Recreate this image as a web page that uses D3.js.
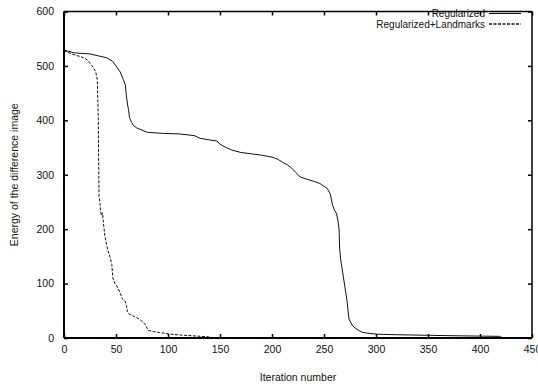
<!DOCTYPE html>
<html>
<head>
<meta charset="utf-8">
<script src="https://cdn.jsdelivr.net/npm/d3@7"></script>
<style>
  body { margin: 0; background: #fff; }
  svg { display: block; font-family: "Liberation Sans", Arial, sans-serif; }
</style>
</head>
<body>
<div id="chart"></div>
<script>
// Energy of the difference image vs iteration
const regIter = [0, 10, 25, 34, 41, 47, 50, 54, 57, 59, 60, 61, 62, 63, 65, 67, 70, 75, 80, 95,
  111, 125, 131, 140, 147, 150, 156, 162, 170, 182, 190, 201, 206, 210, 215, 219, 223, 227, 233,
  240, 246, 253, 256, 258, 260, 262, 263.5, 264.5, 265, 266, 267, 268, 270, 272, 274, 277, 280,
  286, 291, 301, 320, 349, 380, 400, 419, 421, 430, 450];
const regEnergy = [529, 524, 522, 518, 515, 508, 500, 489, 475, 465, 445, 430, 420, 405, 396, 390,
  386, 382, 378, 376, 375, 372, 367, 364, 362, 356, 350, 345, 341, 338, 336, 332, 328, 323, 318,
  312, 304, 296, 292, 288, 284, 275, 265, 246, 235, 229, 215, 200, 165, 145, 132, 120, 95, 70, 35,
  24, 18, 11, 9, 7, 6, 5, 4, 3.5, 3, 1, 0, 0];

const lmIter = [0, 5, 10.6, 16, 20, 23, 25, 28, 30.5, 32, 32.5, 33, 33.2, 33.5, 33.7, 34.6, 35, 36,
  37, 38, 39.4, 41, 42, 44, 46, 47, 49, 51, 54, 56, 58.7, 60, 61, 62, 65, 68, 73, 76, 78, 80, 81,
  86, 92, 102, 115, 124, 140];
const lmEnergy = [528, 524, 520, 517, 514, 510, 505, 498, 489, 475, 440, 400, 350, 300, 260, 248,
  235, 225, 230, 210, 186, 172, 162, 150, 135, 110, 100, 95, 83, 72, 68, 60, 48, 45, 42, 39, 34,
  29, 25, 18, 14, 12, 10, 7, 5, 4, 2];

const xTicks = [0, 50, 100, 150, 200, 250, 300, 350, 400, 450];
const yTicks = [0, 100, 200, 300, 400, 500, 600];

const seriesNames = ["Regularized", "Regularized+Landmarks"];

const width = 538, height = 384;
const margin = { top: 11.5, right: 6, bottom: 46, left: 64 };

const svg = d3.select("#chart").append("svg")
  .attr("width", width)
  .attr("height", height);

const x = d3.scaleLinear().domain([0, 450]).range([margin.left, width - margin.right]);
const y = d3.scaleLinear().domain([0, 600]).range([height - margin.bottom, margin.top]);

const textColor = "#111";
const fontSize = 10.5;

// Axes (inward ticks, gnuplot style)
svg.append("g")
  .attr("transform", `translate(0,${y(0)})`)
  .call(d3.axisBottom(x).tickValues(xTicks).tickSizeInner(-4).tickSizeOuter(0).tickPadding(8))
  .call(g => g.select(".domain").remove());

svg.append("g")
  .attr("transform", `translate(${x(0)},0)`)
  .call(d3.axisLeft(y).tickValues(yTicks).tickSizeInner(-4).tickSizeOuter(0).tickPadding(10))
  .call(g => g.select(".domain").remove());

svg.append("g")
  .attr("transform", `translate(0,${y(600)})`)
  .call(d3.axisTop(x).tickValues(xTicks).tickSizeInner(-4).tickSizeOuter(0).tickFormat(""))
  .call(g => g.select(".domain").remove());

svg.append("g")
  .attr("transform", `translate(${x(450)},0)`)
  .call(d3.axisRight(y).tickValues(yTicks).tickSizeInner(-4).tickSizeOuter(0).tickFormat(""))
  .call(g => g.select(".domain").remove());

svg.selectAll(".tick line").attr("stroke", "#000").attr("stroke-width", 1.5);
svg.selectAll(".tick text")
  .attr("fill", textColor)
  .attr("font-size", fontSize)
  .attr("font-family", "Liberation Sans, Arial, sans-serif");

// Frame
svg.append("line")
  .attr("x1", x(0)).attr("x2", x(450)).attr("y1", y(600)).attr("y2", y(600))
  .attr("stroke", "#000").attr("stroke-width", 1.5);
svg.append("line")
  .attr("x1", x(450)).attr("x2", x(450)).attr("y1", y(600)).attr("y2", y(0))
  .attr("stroke", "#000").attr("stroke-width", 1.5);

// Lines
const line = d3.line().x(d => x(d[0])).y(d => y(d[1]));

svg.append("path")
  .datum(d3.zip(regIter, regEnergy))
  .attr("fill", "none")
  .attr("stroke", "#111")
  .attr("stroke-width", 1)
  .attr("d", line);

svg.append("path")
  .datum(d3.zip(lmIter, lmEnergy))
  .attr("fill", "none")
  .attr("stroke", "#111")
  .attr("stroke-width", 1)
  .attr("stroke-dasharray", "3,1.5")
  .attr("d", line);

// bottom & left axis lines on top of curves
svg.append("line")
  .attr("x1", x(0)).attr("x2", x(450)).attr("y1", y(0)).attr("y2", y(0))
  .attr("stroke", "#000").attr("stroke-width", 2);
svg.append("line")
  .attr("x1", x(0)).attr("x2", x(0)).attr("y1", y(600)).attr("y2", y(0))
  .attr("stroke", "#000").attr("stroke-width", 2);

// Legend
const legend = svg.append("g");
seriesNames.forEach((name, i) => {
  const ly = 13.5 + i * 10.5;
  legend.append("text")
    .attr("x", 485)
    .attr("y", ly)
    .attr("dy", "0.35em")
    .attr("text-anchor", "end")
    .attr("font-size", 10)
    .attr("fill", textColor)
    .text(name);
  legend.append("line")
    .attr("x1", 489).attr("x2", 521)
    .attr("y1", ly).attr("y2", ly)
    .attr("stroke", "#111")
    .attr("stroke-width", i === 0 ? 1 : 1.5)
    .attr("stroke-dasharray", i === 0 ? null : "3,1.5");
});

// Axis titles
svg.append("text")
  .attr("x", (x(0) + x(450)) / 2)
  .attr("y", 377)
  .attr("dy", "0.35em")
  .attr("text-anchor", "middle")
  .attr("font-size", fontSize)
  .attr("fill", textColor)
  .text("Iteration number");

svg.append("text")
  .attr("transform", `translate(14,${(y(0) + y(600)) / 2}) rotate(-90)`)
  .attr("dy", "0.35em")
  .attr("text-anchor", "middle")
  .attr("font-size", fontSize)
  .attr("fill", textColor)
  .text("Energy of the difference image");
</script>
</body>
</html>
